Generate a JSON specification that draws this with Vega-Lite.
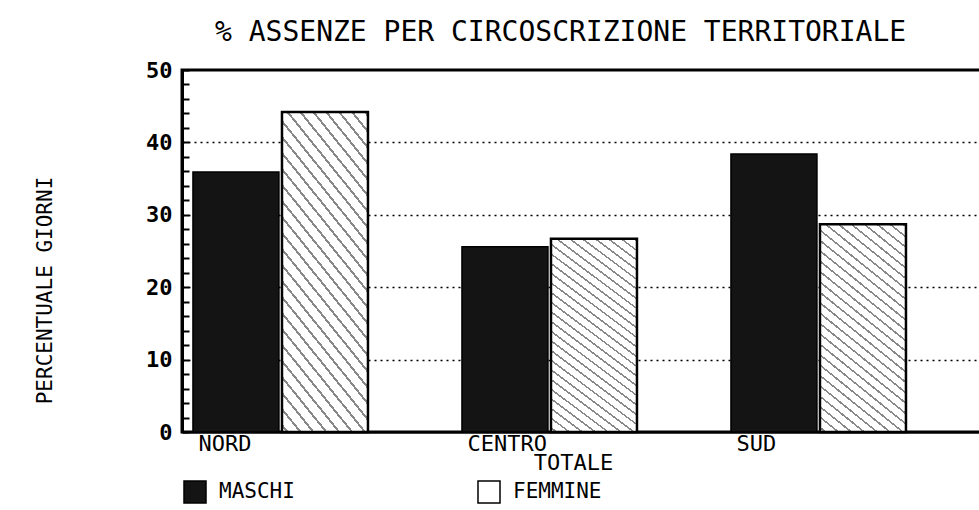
{
  "$schema": "https://vega.github.io/schema/vega-lite/v6.json",
  "width": 800,
  "height": 362,
  "autosize": {"type": "none"},
  "padding": {"left": 182, "top": 70, "right": 0, "bottom": 78},
  "background": "white",
  "title": {
    "text": "% ASSENZE PER CIRCOSCRIZIONE TERRITORIALE",
    "anchor": "start",
    "frame": "group",
    "dx": 33,
    "font": "DejaVu Sans Mono",
    "fontSize": 28,
    "fontWeight": "normal",
    "color": "black",
    "offset": 12
  },
  "data": {
    "values": [
      {"area": "NORD", "sesso": "MASCHI", "valore": 35.9},
      {"area": "NORD", "sesso": "FEMMINE", "valore": 44.2},
      {"area": "CENTRO", "sesso": "MASCHI", "valore": 25.6},
      {"area": "CENTRO", "sesso": "FEMMINE", "valore": 26.7},
      {"area": "SUD", "sesso": "MASCHI", "valore": 38.4},
      {"area": "SUD", "sesso": "FEMMINE", "valore": 28.7}
    ]
  },
  "encoding": {
    "x": {
      "field": "area",
      "type": "nominal",
      "sort": ["NORD", "CENTRO", "SUD"],
      "scale": {"paddingInner": 0.3494, "paddingOuter": 0.1617, "align": 0.126},
      "title": "TOTALE",
      "axis": {
        "labelAlign": "left",
        "labelOffset": -82,
        "labelAngle": 0,
        "ticks": false,
        "domainColor": "black",
        "domainWidth": 2,
        "labelFont": "DejaVu Sans Mono",
        "labelFontSize": 22,
        "labelColor": "black",
        "labelPadding": 1,
        "labelBaseline": "top",
        "titleFont": "DejaVu Sans Mono",
        "titleFontSize": 22,
        "titleFontWeight": "normal",
        "titleColor": "black",
        "titlePadding": -2,
        "titleX": 391
      }
    },
    "xOffset": {
      "field": "sesso",
      "type": "nominal",
      "sort": ["MASCHI", "FEMMINE"],
      "scale": {"paddingInner": 0.034, "paddingOuter": 0}
    },
    "y": {
      "field": "valore",
      "type": "quantitative",
      "scale": {"domain": [0, 50], "nice": false},
      "title": "PERCENTUALE GIORNI",
      "axis": {
        "values": [0, 2, 4, 6, 8, 10, 12, 14, 16, 18, 20, 22, 24, 26, 28, 30, 32, 34, 36, 38, 40, 42, 44, 46, 48, 50],
        "labelExpr": "datum.value % 10 === 0 ? datum.label : ''",
        "tickSize": -7,
        "tickColor": "black",
        "tickWidth": 2,
        "domainColor": "black",
        "domainWidth": 3,
        "labelFont": "DejaVu Sans Mono",
        "labelFontWeight": "bold",
        "labelFontSize": 22,
        "labelColor": "black",
        "labelPadding": 17,
        "grid": true,
        "gridColor": "black",
        "gridDash": [2, 4],
        "gridWidth": 1.5,
        "gridOpacity": {
          "condition": {"test": "datum.value % 10 === 0 && datum.value > 0 && datum.value < 50", "value": 1},
          "value": 0
        },
        "titleFont": "DejaVu Sans Mono",
        "titleFontSize": 21,
        "titleFontWeight": "normal",
        "titleColor": "black",
        "titleX": -137,
        "titleY": 220,
        "titleBaseline": "middle"
      }
    }
  },
  "layer": [
    {
      "mark": {"type": "bar", "stroke": "black", "strokeWidth": 1.5},
      "encoding": {
        "color": {
          "field": "sesso",
          "type": "nominal",
          "sort": ["MASCHI", "FEMMINE"],
          "scale": {"domain": ["MASCHI", "FEMMINE"], "range": ["#141414", "#ffffff"]},
          "legend": {
            "orient": "none",
            "legendX": 1,
            "legendY": 410,
            "direction": "horizontal",
            "title": null,
            "symbolType": "square",
            "symbolSize": 484,
            "symbolStrokeColor": "black",
            "symbolStrokeWidth": 1.5,
            "symbolOpacity": 1,
            "labelFont": "DejaVu Sans Mono",
            "labelFontSize": 21,
            "labelColor": "black",
            "labelOffset": 12,
            "columnPadding": 180
          }
        }
      }
    },
    {
      "transform": [{"filter": "datum.sesso === 'FEMMINE'"}],
      "mark": {
        "type": "bar",
        "stroke": "black",
        "strokeWidth": 2.5,
        "fill": {
          "gradient": "linear",
          "x1": 0, "y1": 1.5, "x2": 1, "y2": -1.5,
          "stops": [
            {"offset": 0.140, "color": "#ffffff"}, {"offset": 0.140, "color": "#888888"}, {"offset": 0.143, "color": "#888888"}, {"offset": 0.143, "color": "#ffffff"},
            {"offset": 0.155, "color": "#ffffff"}, {"offset": 0.155, "color": "#888888"}, {"offset": 0.158, "color": "#888888"}, {"offset": 0.158, "color": "#ffffff"},
            {"offset": 0.170, "color": "#ffffff"}, {"offset": 0.170, "color": "#888888"}, {"offset": 0.173, "color": "#888888"}, {"offset": 0.173, "color": "#ffffff"},
            {"offset": 0.185, "color": "#ffffff"}, {"offset": 0.185, "color": "#888888"}, {"offset": 0.188, "color": "#888888"}, {"offset": 0.188, "color": "#ffffff"},
            {"offset": 0.200, "color": "#ffffff"}, {"offset": 0.200, "color": "#888888"}, {"offset": 0.203, "color": "#888888"}, {"offset": 0.203, "color": "#ffffff"},
            {"offset": 0.215, "color": "#ffffff"}, {"offset": 0.215, "color": "#888888"}, {"offset": 0.218, "color": "#888888"}, {"offset": 0.218, "color": "#ffffff"},
            {"offset": 0.230, "color": "#ffffff"}, {"offset": 0.230, "color": "#888888"}, {"offset": 0.233, "color": "#888888"}, {"offset": 0.233, "color": "#ffffff"},
            {"offset": 0.245, "color": "#ffffff"}, {"offset": 0.245, "color": "#888888"}, {"offset": 0.248, "color": "#888888"}, {"offset": 0.248, "color": "#ffffff"},
            {"offset": 0.260, "color": "#ffffff"}, {"offset": 0.260, "color": "#888888"}, {"offset": 0.263, "color": "#888888"}, {"offset": 0.263, "color": "#ffffff"},
            {"offset": 0.275, "color": "#ffffff"}, {"offset": 0.275, "color": "#888888"}, {"offset": 0.278, "color": "#888888"}, {"offset": 0.278, "color": "#ffffff"},
            {"offset": 0.290, "color": "#ffffff"}, {"offset": 0.290, "color": "#888888"}, {"offset": 0.293, "color": "#888888"}, {"offset": 0.293, "color": "#ffffff"},
            {"offset": 0.305, "color": "#ffffff"}, {"offset": 0.305, "color": "#888888"}, {"offset": 0.308, "color": "#888888"}, {"offset": 0.308, "color": "#ffffff"},
            {"offset": 0.320, "color": "#ffffff"}, {"offset": 0.320, "color": "#888888"}, {"offset": 0.323, "color": "#888888"}, {"offset": 0.323, "color": "#ffffff"},
            {"offset": 0.335, "color": "#ffffff"}, {"offset": 0.335, "color": "#888888"}, {"offset": 0.338, "color": "#888888"}, {"offset": 0.338, "color": "#ffffff"},
            {"offset": 0.350, "color": "#ffffff"}, {"offset": 0.350, "color": "#888888"}, {"offset": 0.353, "color": "#888888"}, {"offset": 0.353, "color": "#ffffff"},
            {"offset": 0.365, "color": "#ffffff"}, {"offset": 0.365, "color": "#888888"}, {"offset": 0.368, "color": "#888888"}, {"offset": 0.368, "color": "#ffffff"},
            {"offset": 0.380, "color": "#ffffff"}, {"offset": 0.380, "color": "#888888"}, {"offset": 0.383, "color": "#888888"}, {"offset": 0.383, "color": "#ffffff"},
            {"offset": 0.395, "color": "#ffffff"}, {"offset": 0.395, "color": "#888888"}, {"offset": 0.398, "color": "#888888"}, {"offset": 0.398, "color": "#ffffff"},
            {"offset": 0.410, "color": "#ffffff"}, {"offset": 0.410, "color": "#888888"}, {"offset": 0.413, "color": "#888888"}, {"offset": 0.413, "color": "#ffffff"},
            {"offset": 0.425, "color": "#ffffff"}, {"offset": 0.425, "color": "#888888"}, {"offset": 0.428, "color": "#888888"}, {"offset": 0.428, "color": "#ffffff"},
            {"offset": 0.440, "color": "#ffffff"}, {"offset": 0.440, "color": "#888888"}, {"offset": 0.443, "color": "#888888"}, {"offset": 0.443, "color": "#ffffff"},
            {"offset": 0.455, "color": "#ffffff"}, {"offset": 0.455, "color": "#888888"}, {"offset": 0.458, "color": "#888888"}, {"offset": 0.458, "color": "#ffffff"},
            {"offset": 0.470, "color": "#ffffff"}, {"offset": 0.470, "color": "#888888"}, {"offset": 0.473, "color": "#888888"}, {"offset": 0.473, "color": "#ffffff"},
            {"offset": 0.485, "color": "#ffffff"}, {"offset": 0.485, "color": "#888888"}, {"offset": 0.488, "color": "#888888"}, {"offset": 0.488, "color": "#ffffff"},
            {"offset": 0.500, "color": "#ffffff"}, {"offset": 0.500, "color": "#888888"}, {"offset": 0.503, "color": "#888888"}, {"offset": 0.503, "color": "#ffffff"},
            {"offset": 0.515, "color": "#ffffff"}, {"offset": 0.515, "color": "#888888"}, {"offset": 0.518, "color": "#888888"}, {"offset": 0.518, "color": "#ffffff"},
            {"offset": 0.530, "color": "#ffffff"}, {"offset": 0.530, "color": "#888888"}, {"offset": 0.533, "color": "#888888"}, {"offset": 0.533, "color": "#ffffff"},
            {"offset": 0.545, "color": "#ffffff"}, {"offset": 0.545, "color": "#888888"}, {"offset": 0.548, "color": "#888888"}, {"offset": 0.548, "color": "#ffffff"},
            {"offset": 0.560, "color": "#ffffff"}, {"offset": 0.560, "color": "#888888"}, {"offset": 0.563, "color": "#888888"}, {"offset": 0.563, "color": "#ffffff"}
          ]
        }
      }
    }
  ],
  "config": {
    "view": {"stroke": "black", "strokeWidth": 3}
  }
}
